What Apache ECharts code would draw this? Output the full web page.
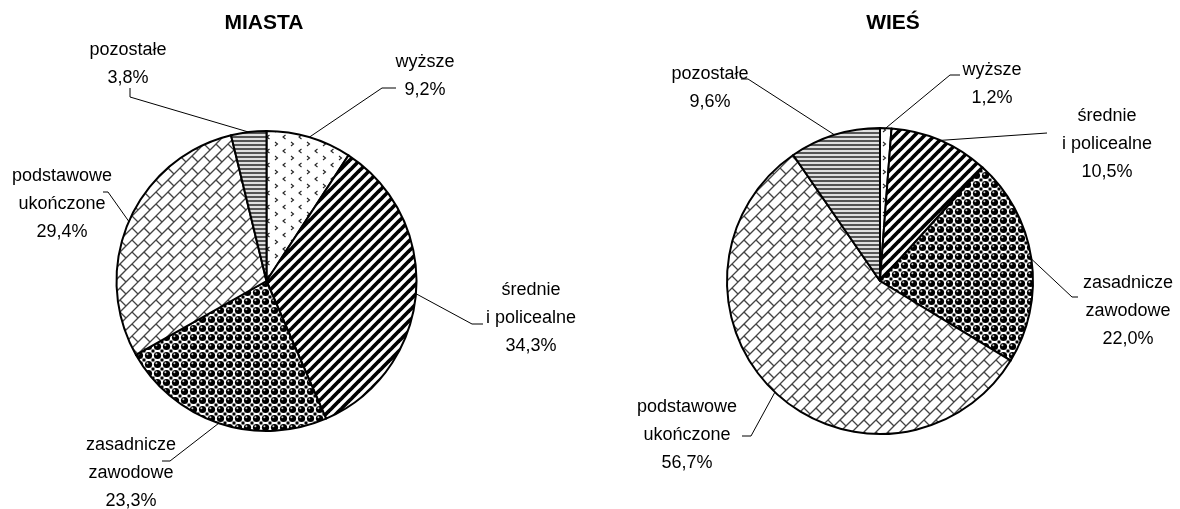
<!DOCTYPE html>
<html>
<head>
<meta charset="utf-8">
<script src="https://cdn.jsdelivr.net/npm/echarts@6/dist/echarts.min.js"></script>
<style>
  html, body { margin: 0; padding: 0; background: #fff; }
  #chart { width: 1180px; height: 509px; }
</style>
</head>
<body>
<div id="chart"></div>
<script>
// data
var categories = ['wyższe', 'średnie\ni policealne', 'zasadnicze\nzawodowe', 'podstawowe\nukończone', 'pozostałe'];
var miastaValues = [9.2, 34.3, 23.3, 29.4, 3.8];
var wiesValues = [1.2, 10.5, 22.0, 56.7, 9.6];
var titles = ['MIASTA', 'WIEŚ'];

// label block centre + leader bend + leader end, per pie / per slice
var labelSpots = [
  [[425, 76, 382, 88, 396, 88], [531, 318, 472, 324, 483, 324], [131, 473, 170, 461, 162, 461],
   [62, 204, 108, 192, 103, 192], [128, 64, 130, 97, 130, 88]],
  [[992, 84, 950, 75, 960, 75], [1107, 144, 1040, 133.5, 1047, 133], [1128, 311, 1072, 297, 1078, 297],
   [687, 435, 751, 436, 742, 436], [710, 88, 748, 79, 741, 79]]
];

var FONT = '"Liberation Sans", Arial, sans-serif';

function makeTile(w, h, draw) {
  var c = document.createElement('canvas');
  c.width = w;
  c.height = h;
  var g = c.getContext('2d');
  g.fillStyle = '#fff';
  g.fillRect(0, 0, w, h);
  draw(g, w, h);
  return { image: c, repeat: 'repeat' };
}

// wyższe - little chevrons
var patChevron = makeTile(16, 14, function(g) {
  g.strokeStyle = '#222';
  g.lineWidth = 1.1;
  g.beginPath(); g.moveTo(3, 2); g.lineTo(5.5, 4); g.lineTo(3, 6); g.stroke();
  g.beginPath(); g.moveTo(13.5, 9); g.lineTo(11, 11); g.lineTo(13.5, 13); g.stroke();
});

// średnie - wide diagonal stripes
var patStripe = makeTile(10, 10, function(g) {
  g.strokeStyle = '#000';
  g.lineWidth = 3.7;
  for (var k = -1; k <= 1; k++) {
    g.beginPath();
    g.moveTo(k * 10 - 2, 12);
    g.lineTo(k * 10 + 12, -2);
    g.stroke();
  }
});

// zasadnicze - spheres on checker
var patBalls = makeTile(9, 9, function(g) {
  g.fillStyle = '#000';
  g.fillRect(0, 0, 1.5, 1.5); g.fillRect(7.5, 0, 1.5, 1.5);
  g.fillRect(0, 7.5, 1.5, 1.5); g.fillRect(7.5, 7.5, 1.5, 1.5);
  g.beginPath(); g.arc(4.5, 4.5, 3.6, 0, Math.PI * 2); g.fill();
  g.fillStyle = '#ccc';
  g.beginPath(); g.arc(3.4, 3.3, 1, 0, Math.PI * 2); g.fill();
});

// podstawowe - diagonal brick lattice
var patBrick = makeTile(24, 24, function(g) {
  var p = 12;
  g.strokeStyle = '#444';
  g.lineWidth = 1.3;
  for (var n = -1; n <= 5; n++) {
    var c = n * p;
    g.beginPath(); g.moveTo(c + 2, -2); g.lineTo(-2, c + 2); g.stroke();
  }
  for (n = -3; n <= 6; n++) {
    for (var m = -3; m <= 3; m++) {
      var v = m * 2 * p + (((n % 2) + 2) % 2) * p;
      var u0 = n * p, u1 = (n + 1) * p;
      g.beginPath();
      g.moveTo((u0 + v) / 2, (u0 - v) / 2);
      g.lineTo((u1 + v) / 2, (u1 - v) / 2);
      g.stroke();
    }
  }
});

// pozostałe - horizontal grey lines
var patHoriz = makeTile(4, 4, function(g) {
  g.fillStyle = '#555';
  g.fillRect(0, 0, 4, 2);
  g.fillStyle = '#e0e0e0';
  g.fillRect(0, 2, 4, 2);
});

var patterns = [patChevron, patStripe, patBalls, patBrick, patHoriz];

function pctText(v) {
  return v.toFixed(1).replace('.', ',') + '%';
}

function buildPie(values, center, radius) {
  return {
    type: 'pie',
    center: center,
    radius: radius,
    startAngle: 90,
    clockwise: true,
    silent: true,
    avoidLabelOverlap: false,
    itemStyle: { borderColor: '#000', borderWidth: 2 },
    label: {
      show: true,
      position: 'outside',
      color: '#000',
      fontSize: 18,
      lineHeight: 28,
      fontFamily: FONT,
      align: 'center',
      formatter: function(p) {
        return p.name + '\n' + pctText(p.value);
      }
    },
    labelLine: { show: true, length: 10, length2: 10, lineStyle: { color: '#000', width: 1 } },
    labelLayout: function(params) {
      var s = labelSpots[params.seriesIndex][params.dataIndex];
      var pts = params.labelLinePoints;
      var edge = pts && pts[0] ? pts[0] : [s[2], s[3]];
      return {
        x: s[0],
        y: s[1],
        align: 'center',
        verticalAlign: 'middle',
        labelLinePoints: [edge, [s[2], s[3]], [s[4], s[5]]]
      };
    },
    data: categories.map(function(name, i) {
      return { name: name, value: values[i], itemStyle: { color: patterns[i] } };
    })
  };
}

var chart = echarts.init(document.getElementById('chart'), null, { renderer: 'canvas' });
chart.setOption({
  backgroundColor: '#fff',
  animation: false,
  graphic: [
    { type: 'text', x: 264, y: 23, style: { text: titles[0], align: 'center', verticalAlign: 'middle',
      font: 'bold 21px ' + FONT, fill: '#000' } },
    { type: 'text', x: 893, y: 23, style: { text: titles[1], align: 'center', verticalAlign: 'middle',
      font: 'bold 21px ' + FONT, fill: '#000' } }
  ],
  series: [
    buildPie(miastaValues, [266.5, 281], 150),
    buildPie(wiesValues, [880, 281], 153)
  ]
});
</script>
</body>
</html>
